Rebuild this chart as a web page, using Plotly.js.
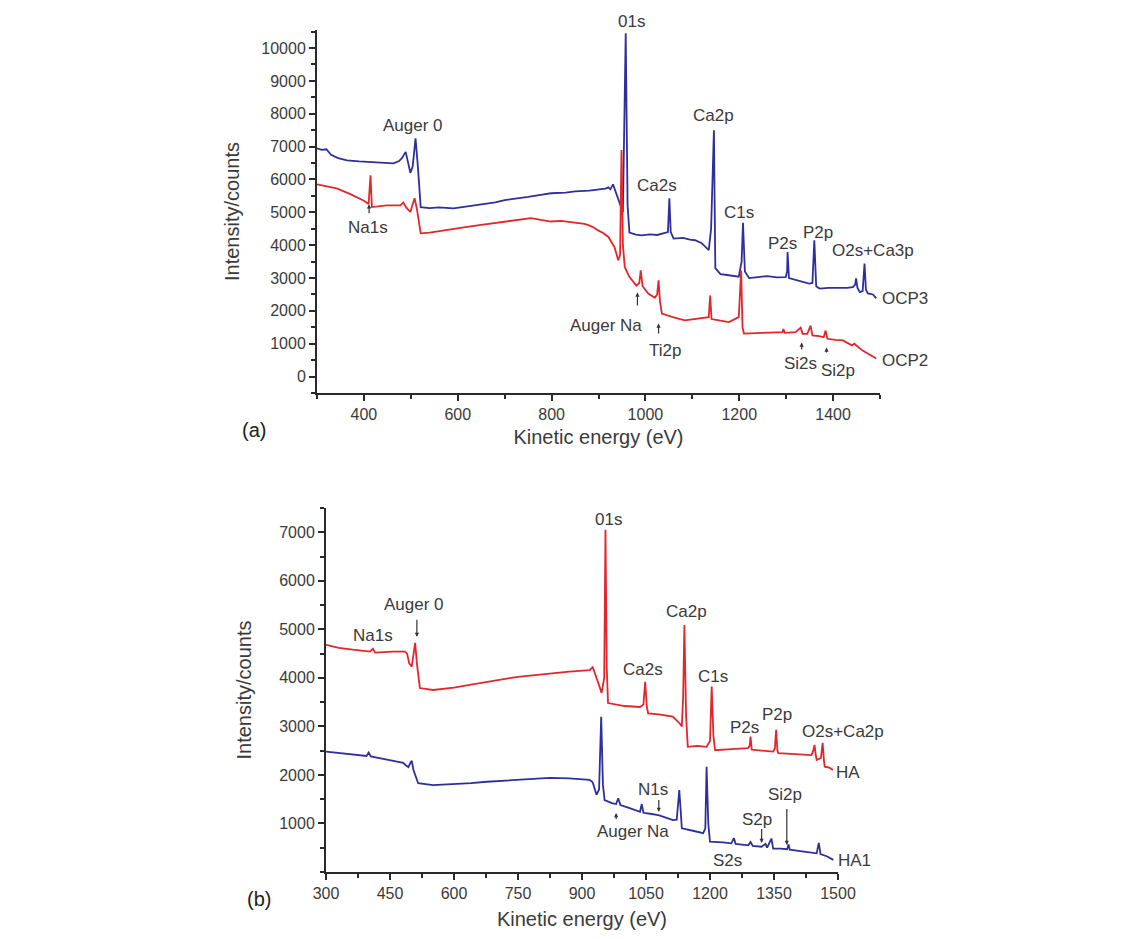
<!DOCTYPE html>
<html>
<head>
<meta charset="utf-8">
<script src="https://cdn.plot.ly/plotly-3.0.1.min.js"></script>
<style>html,body{margin:0;padding:0;background:#fff;}#chart{width:1143px;height:939px;}</style>
</head>
<body>
<div id="chart"></div>
<script>
// ---- Panel (a) data ----
const ocp3X = [300,310,320,330,345,364,390,414,440,463,475,481,489,495,499,504,510,515,521,540,560,591,620,650,680,700,730,750,780,799,830,850,880,900,915,921,925,931,936,945,952,958,962,966,980,992,1010,1025,1041,1048,1051,1054,1060,1080,1095,1106,1120,1135,1140,1146,1149,1160,1170,1185,1199,1205,1208,1212,1221,1240,1260,1280,1299,1302,1303,1306,1320,1335,1349,1356,1360,1364,1371,1390,1410,1430,1442,1447,1449,1452,1457,1463,1467,1470,1474,1485,1492];
const ocp3Y = [6950,6900,6920,6750,6650,6580,6550,6530,6510,6490,6560,6650,6840,6500,6200,6400,7250,6400,5160,5130,5150,5120,5180,5250,5300,5370,5420,5470,5540,5580,5600,5640,5660,5700,5720,5760,5700,5850,5650,5300,5000,10450,5200,4380,4320,4300,4330,4310,4360,4400,5430,4400,4200,4220,4170,4150,4060,3850,4500,7500,3300,3120,3100,3060,3040,3500,4680,3200,3000,3030,3060,3020,3030,3200,3790,3000,2950,2900,2830,2850,4150,2750,2680,2700,2690,2700,2720,2800,2990,2700,2570,2600,3440,2650,2530,2500,2380];

const ocp2X = [300,320,342,370,399,410,414,417,449,478,484,490,499,503,508,513,521,540,560,591,620,650,680,700,730,756,780,799,820,849,870,880,890,899,910,921,928,934,938,942,946,949,952,956,966,981,987,990,994,1006,1020,1025,1028,1031,1035,1060,1084,1110,1135,1138,1141,1160,1178,1199,1202,1204,1207,1210,1250,1292,1294,1297,1320,1331,1335,1345,1352,1356,1370,1380,1384,1388,1405,1421,1440,1445,1463,1480,1492];
const ocp2Y = [5850,5790,5730,5560,5360,5250,6130,5160,5210,5210,5300,5150,5010,5200,5430,5100,4360,4380,4430,4510,4560,4620,4680,4720,4770,4820,4760,4720,4740,4700,4650,4600,4540,4450,4370,4250,4100,3940,3750,3540,3700,6900,4000,3330,3030,2770,2850,3230,2750,2530,2400,2500,2930,2300,1920,1800,1710,1760,1810,2470,1750,1700,1660,1810,2500,3230,1500,1310,1330,1350,1450,1330,1350,1490,1300,1300,1550,1250,1230,1200,1400,1150,1120,1100,950,1000,790,650,550];

// ---- Panel (b) data ----
const haX = [300,330,363,403,410,415,457,485,490,495,501,505,509,513,520,551,600,640,677,720,750,790,825,870,918,925,930,940,946,952,955,958,961,1000,1036,1044,1048,1052,1055,1080,1113,1130,1134,1137,1140,1144,1148,1170,1192,1200,1204,1208,1212,1250,1289,1293,1295,1298,1320,1348,1352,1355,1358,1360,1400,1438,1442,1445,1448,1450,1460,1464,1467,1469,1480,1488];
const haY = [4680,4620,4580,4540,4600,4520,4540,4540,4500,4300,4230,4500,4720,4300,3790,3750,3800,3860,3920,3980,4020,4060,4100,4130,4160,4220,4100,3850,3690,4000,7050,4200,3480,3420,3400,3450,3920,3400,3270,3250,3200,3050,3000,3600,5090,3200,2580,2600,2580,2700,3820,2800,2510,2530,2550,2600,2790,2520,2500,2480,2550,2930,2500,2450,2430,2410,2500,2620,2400,2310,2350,2660,2300,2170,2150,2100];

const ha1X = [300,350,395,400,405,440,481,487,493,498,501,505,516,551,600,640,677,720,750,790,825,870,918,925,934,940,945,949,953,970,980,985,990,1010,1036,1040,1044,1060,1079,1100,1113,1122,1125,1128,1131,1134,1160,1184,1189,1192,1196,1200,1230,1250,1256,1260,1290,1295,1300,1321,1330,1334,1344,1348,1365,1381,1384,1387,1420,1450,1455,1459,1475,1489];
const ha1Y = [2480,2440,2390,2460,2380,2320,2250,2200,2160,2250,2290,2100,1830,1790,1810,1830,1860,1880,1900,1920,1940,1930,1900,1850,1590,1700,3200,1800,1480,1420,1400,1520,1380,1320,1240,1400,1220,1200,1170,1110,1070,1080,1400,1690,1300,900,850,800,900,2170,1000,625,610,590,700,580,550,620,540,520,580,500,690,480,480,470,570,460,420,385,600,370,320,250];

// tick labels
const aXTicks = [400,600,800,1000,1200,1400];
const aYTicks = [0,1000,2000,3000,4000,5000,6000,7000,8000,9000,10000];
const aYTickText = ['0','1000','2000','3000','4000','5000','6000','7000','8000','9000','10000'];
const bXTicks = [300,450,600,750,900,1050,1200,1350,1500];
const bYTicks = [1000,2000,3000,4000,5000,6000,7000];

// peak labels: [text, x, y, xanchor, yanchor]
const aLabels = [["01s",971,10450,'center','bottom'],["Auger 0",504,7650],["Na1s",409,4540],["Ca2p",1146,7960],["Ca2s",1024,5820],["C1s",1200,5000],["P2s",1292,4055],["P2p",1367,4390],["O2s+Ca3p",1393,3840,'left'],["Auger Na",917,1555],["Ti2p",1041,793],["Si2s",1330,396],["Si2p",1410,183],["OCP3",1499,2380,'left'],["OCP2",1499,490,'left']];
const aArrows = [[411,5244,11],[983,2561,15],[1028,1616,12],[1333,1037,9],[1386,884,7]];

const bLabels = [["01s",961,7258],["Auger 0",506,5505],["Na1s",410,4866],["Ca2s",1043,4165],["Ca2p",1144,5361],["C1s",1207,4020],["P2s",1282,2970],["P2p",1357,3237],["O2s+Ca2p",1411,2887,'left'],["N1s",1066,1691],["Auger Na",1019,825],["S2p",1310,1072],["Si2p",1376,1588],["S2s",1240,247],["HA",1490,2041,'left'],["HA1",1495,247,'left']];
const bArrows = [[513,4845,-19],[1080,1237,-14],[980,1216,8],[1321,598,-16],[1380,557,-38]];

const blue = '#2f2f9c', red = '#e3262b';
const FONT = 'Liberation Sans, Arial, sans-serif';
const txt = '#3a3a3a';

const traces = [
  {x: ocp3X, y: ocp3Y, xaxis:'x', yaxis:'y', mode:'lines', line:{color:blue, width:1.8}, name:'OCP3'},
  {x: ocp2X, y: ocp2Y, xaxis:'x', yaxis:'y', mode:'lines', line:{color:red, width:1.8}, name:'OCP2'},
  {x: haX, y: haY, xaxis:'x2', yaxis:'y2', mode:'lines', line:{color:red, width:1.8}, name:'HA'},
  {x: ha1X, y: ha1Y, xaxis:'x2', yaxis:'y2', mode:'lines', line:{color:blue, width:1.8}, name:'HA1'}
];

const annotations = [];
function addLabels(list, xr, yr) {
  list.forEach(l => annotations.push({text:l[0], x:l[1], y:l[2], xref:xr, yref:yr, showarrow:false, xanchor:l[3]||'center', yanchor:l[4]||'middle', font:{family:FONT, size:17, color:txt}}));
}
function addArrows(list, xr, yr) {
  list.forEach(a => annotations.push({text:' ', x:a[0], y:a[1], xref:xr, yref:yr, showarrow:true, ax:0, ay:a[2], arrowhead:2, arrowsize:0.7, arrowwidth:1.2, arrowcolor:'#333', standoff:0, startstandoff:0, font:{size:1}}));
}
addLabels(aLabels,'x','y');
addArrows(aArrows,'x','y');
addLabels(bLabels,'x2','y2');
addArrows(bArrows,'x2','y2');
annotations.push({text:'(a)', x:240/1143, y:(939-430)/939, xref:'paper', yref:'paper', showarrow:false, font:{family:FONT, size:20, color:'#222'}});
annotations.push({text:'(b)', x:245/1143, y:(939-912)/939, xref:'paper', yref:'paper', showarrow:false, font:{family:FONT, size:20, color:'#222'}});

const axisBase = {showline:true, linecolor:'#2a2a2a', linewidth:2, ticks:'outside', ticklen:6, tickwidth:2, tickcolor:'#2a2a2a', showgrid:false, zeroline:false, automargin:false, tickfont:{family:FONT, size:16, color:txt}};
const minorBase = {ticks:'outside', ticklen:4, tickwidth:2, tickcolor:'#2a2a2a'};

const layout = {
  width:1143, height:939, margin:{l:0,r:0,t:0,b:0}, paper_bgcolor:'#fff', plot_bgcolor:'rgba(0,0,0,0)', showlegend:false,
  xaxis: Object.assign({}, axisBase, {domain:[317/1143, 880/1143], range:[300,1500], anchor:'y', tickmode:'array', tickvals:aXTicks, minor:Object.assign({dtick:100, tick0:300}, minorBase), title:{text:'Kinetic energy (eV)', font:{family:FONT, size:20, color:txt}, standoff:8}}),
  yaxis: Object.assign({}, axisBase, {domain:[(939-393)/939, (939-30)/939], range:[-500,10550], anchor:'x', tickmode:'array', tickvals:aYTicks, ticktext:aYTickText, minor:Object.assign({dtick:500, tick0:0}, minorBase), title:{text:'Intensity/counts', font:{family:FONT, size:20, color:txt}, standoff:16}}),
  xaxis2: Object.assign({}, axisBase, {domain:[326/1143, 838/1143], range:[300,1500], anchor:'y2', tickmode:'array', tickvals:bXTicks, minor:Object.assign({dtick:75, tick0:300}, minorBase), title:{text:'Kinetic energy (eV)', font:{family:FONT, size:20, color:txt}, standoff:11}}),
  yaxis2: Object.assign({}, axisBase, {domain:[(939-872)/939, (939-508)/939], range:[0,7500], anchor:'x2', tickmode:'array', tickvals:bYTicks, minor:Object.assign({dtick:500, tick0:0}, minorBase), title:{text:'Intensity/counts', font:{family:FONT, size:20, color:txt}, standoff:22}}),
  annotations: annotations
};

Plotly.newPlot('chart', traces, layout, {staticPlot:true, displayModeBar:false});
</script>
</body>
</html>
